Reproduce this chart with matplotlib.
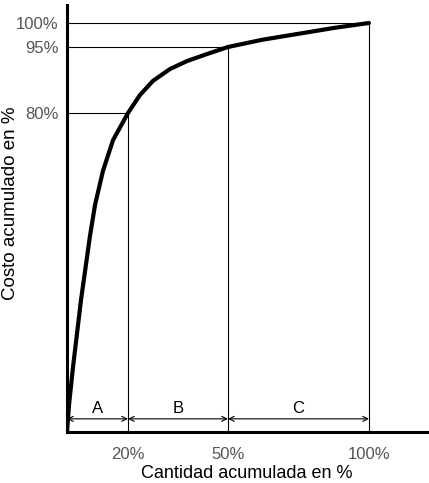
import numpy as np
import matplotlib
matplotlib.use('Agg')
import matplotlib.pyplot as plt

# Curva ABC (Pareto): cantidad acumulada vs costo acumulado, en %
cantidad = [0, 0.66, 1.97, 4.59, 7.54, 9.18, 11.8, 15.1, 20, 23.6, 27.5,
            32.6, 37.7, 43.7, 50, 62.1, 75.5, 87.9, 100]
costo = [0, 6.8, 16.3, 33.1, 49.2, 56.9, 65.5, 73.2, 80, 84.1, 87.3,
         90.0, 91.8, 93.4, 95, 96.5, 97.8, 99.0, 100]

x_ticks = [20, 50, 100]
x_tick_labels = ['20%', '50%', '100%']
y_ticks = [80, 95, 100]
y_tick_labels = ['80%', '95%', '100%']

zonas = ['A', 'B', 'C']
zona_limites = [0, 20, 50, 100]

# el dibujo original no es proporcional: escala lineal por tramos
X_DATA = [-100, 0, 20, 50, 100, 200]
X_PX = [-305, 0, 61, 161, 302, 584]
Y_DATA = [-100, 0, 80, 95, 100, 200]
Y_PX = [-399, 0, 319, 385, 409, 889]


def piecewise_scale(data_knots, px_knots):
    fwd = lambda v: np.interp(v, data_knots, px_knots)
    inv = lambda v: np.interp(v, px_knots, data_knots)
    return fwd, inv


def main():
    plt.rcParams['font.family'] = ['Liberation Sans', 'DejaVu Sans']

    fig = plt.figure(figsize=(4.29, 4.83), dpi=100)
    ax = fig.add_axes([67 / 429, 51 / 483, 362 / 429, 427 / 483])

    xfwd, xinv = piecewise_scale(X_DATA, X_PX)
    ax.set_xscale('function', functions=(xfwd, xinv))
    ax.set_yscale('function', functions=piecewise_scale(Y_DATA, Y_PX))
    ax.set_xlim(0, 121.3)
    ax.set_ylim(0, 103.75)

    # líneas de referencia
    for xv, yv in [(20, 80), (50, 95), (100, 100)]:
        ax.plot([0, xv], [yv, yv], color='black', lw=0.8)
        ax.plot([xv, xv], [0, yv], color='black', lw=0.8)

    # curva
    ax.plot(cantidad, costo, color='black', lw=3, solid_capstyle='round',
            solid_joinstyle='round')

    # flechas y zonas A, B, C
    for i, z in enumerate(zonas):
        x0, x1 = zona_limites[i], zona_limites[i + 1]
        ax.annotate('', xy=(x1, 3.3), xytext=(x0, 3.3),
                    arrowprops=dict(arrowstyle='<->', lw=0.8, color='black',
                                    shrinkA=0, shrinkB=0, mutation_scale=9))
        xm = xinv((xfwd(x0) + xfwd(x1)) / 2)
        ax.text(xm, 6.0, z, ha='center', va='center', fontsize=12)

    ax.set_xticks(x_ticks)
    ax.set_xticklabels(x_tick_labels)
    ax.set_yticks(y_ticks)
    ax.set_yticklabels(y_tick_labels)
    ax.tick_params(axis='x', length=0, pad=11, labelsize=12, labelcolor='#555555')
    ax.tick_params(axis='y', length=0, pad=6, labelsize=12, labelcolor='#555555')
    ax.minorticks_off()

    for s in ['top', 'right']:
        ax.spines[s].set_visible(False)
    for s in ['left', 'bottom']:
        ax.spines[s].set_linewidth(2.2)

    ax.set_xlabel('Cantidad acumulada en %', fontsize=13)
    ax.xaxis.set_label_coords(0.497, -0.098)
    ax.xaxis.label.set_va('center')
    ax.set_ylabel('Costo acumulado en %', fontsize=13.5)
    ax.yaxis.set_label_coords(-0.157, 0.536)
    ax.yaxis.label.set_va('center')

    fig.savefig('out.png', dpi=100)


if __name__ == "__main__":
    main()
